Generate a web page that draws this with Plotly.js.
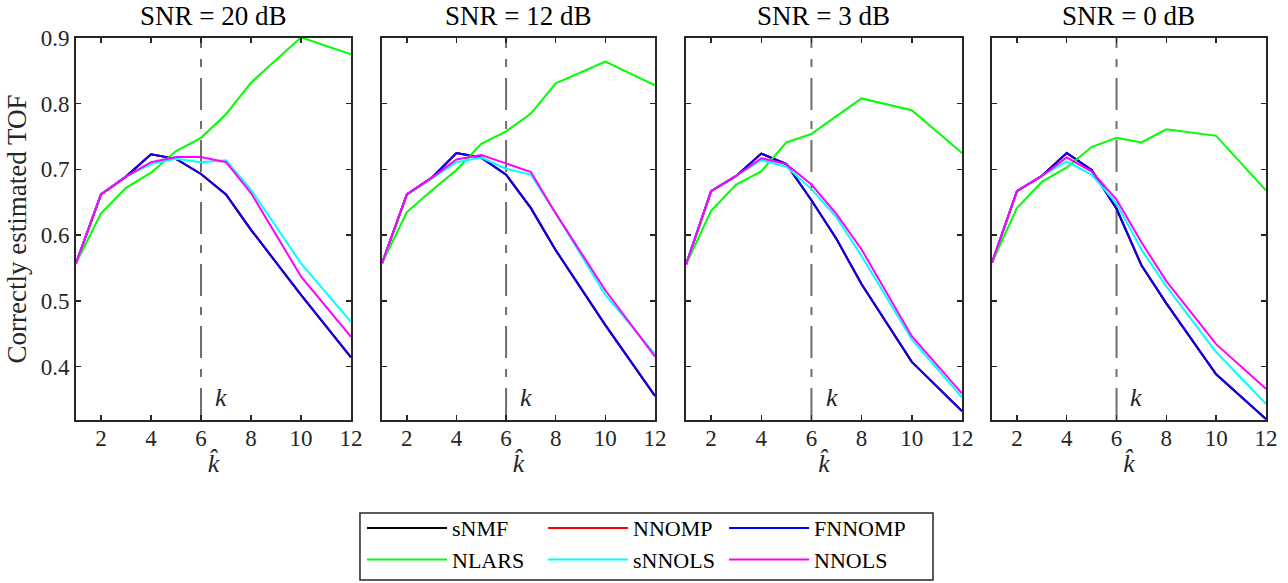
<!DOCTYPE html>
<html><head><meta charset="utf-8">
<script src="https://cdn.plot.ly/plotly-3.0.1.min.js"></script>
<style>html,body{margin:0;padding:0;background:#fff}</style></head>
<body><div id="chart" style="width:1288px;height:583px"></div>
<script>
// ---- data ----
const kHat = [1, 2, 3, 4, 5, 6, 7, 8, 10, 12];
const snrTitles = ['SNR = 20 dB', 'SNR = 12 dB', 'SNR = 3 dB', 'SNR = 0 dB'];
const trueK = 6;
const xTicks = [2, 4, 6, 8, 10, 12];
const yTicks = [0.4, 0.5, 0.6, 0.7, 0.8, 0.9];

// SNR = 20 dB
const sNMF_20   = [0.557, 0.662, 0.689, 0.723, 0.716, 0.693, 0.662, 0.608, 0.509, 0.414];
const NNOMP_20  = [0.557, 0.662, 0.689, 0.723, 0.716, 0.693, 0.662, 0.608, 0.509, 0.414];
const FNNOMP_20 = [0.557, 0.662, 0.689, 0.723, 0.716, 0.693, 0.662, 0.608, 0.509, 0.414];
const NLARS_20  = [0.557, 0.633, 0.672, 0.695, 0.728, 0.748, 0.784, 0.832, 0.901, 0.875];
const sNNOLS_20 = [0.557, 0.662, 0.689, 0.708, 0.716, 0.711, 0.714, 0.669, 0.557, 0.468];
const NNOLS_20  = [0.557, 0.662, 0.689, 0.711, 0.719, 0.719, 0.711, 0.664, 0.537, 0.445];
// SNR = 12 dB
const sNMF_12   = [0.557, 0.662, 0.687, 0.725, 0.718, 0.692, 0.641, 0.577, 0.463, 0.355];
const NNOMP_12  = [0.557, 0.662, 0.687, 0.725, 0.718, 0.692, 0.641, 0.577, 0.463, 0.355];
const FNNOMP_12 = [0.557, 0.662, 0.687, 0.725, 0.718, 0.692, 0.641, 0.577, 0.463, 0.355];
const NLARS_12  = [0.557, 0.635, 0.668, 0.699, 0.739, 0.758, 0.785, 0.831, 0.864, 0.828];
const sNNOLS_12 = [0.557, 0.662, 0.686, 0.711, 0.718, 0.701, 0.692, 0.633, 0.509, 0.419];
const NNOLS_12  = [0.557, 0.662, 0.687, 0.715, 0.722, 0.709, 0.696, 0.633, 0.516, 0.415];
// SNR = 3 dB
const sNMF_3    = [0.555, 0.667, 0.690, 0.724, 0.708, 0.653, 0.594, 0.525, 0.407, 0.332];
const NNOMP_3   = [0.555, 0.667, 0.690, 0.724, 0.708, 0.653, 0.594, 0.525, 0.407, 0.332];
const FNNOMP_3  = [0.555, 0.667, 0.690, 0.724, 0.708, 0.653, 0.594, 0.525, 0.407, 0.332];
const NLARS_3   = [0.555, 0.637, 0.677, 0.697, 0.741, 0.754, 0.781, 0.808, 0.790, 0.725];
const sNNOLS_3  = [0.555, 0.667, 0.690, 0.714, 0.704, 0.670, 0.627, 0.568, 0.441, 0.353];
const NNOLS_3   = [0.555, 0.667, 0.690, 0.717, 0.708, 0.677, 0.632, 0.578, 0.446, 0.359];
// SNR = 0 dB
const sNMF_0    = [0.558, 0.667, 0.690, 0.725, 0.699, 0.640, 0.554, 0.496, 0.388, 0.320];
const NNOMP_0   = [0.558, 0.667, 0.690, 0.725, 0.699, 0.640, 0.554, 0.496, 0.388, 0.320];
const FNNOMP_0  = [0.558, 0.667, 0.690, 0.725, 0.699, 0.640, 0.554, 0.496, 0.388, 0.320];
const NLARS_0   = [0.558, 0.641, 0.681, 0.703, 0.734, 0.748, 0.741, 0.761, 0.751, 0.668];
const sNNOLS_0  = [0.558, 0.667, 0.690, 0.712, 0.692, 0.648, 0.578, 0.522, 0.422, 0.343];
const NNOLS_0   = [0.558, 0.667, 0.690, 0.718, 0.697, 0.654, 0.589, 0.530, 0.434, 0.366];

const methodNames = ['sNMF', 'NNOMP', 'FNNOMP', 'NLARS', 'sNNOLS', 'NNOLS'];
const panels = [
  [sNMF_20, NNOMP_20, FNNOMP_20, NLARS_20, sNNOLS_20, NNOLS_20],
  [sNMF_12, NNOMP_12, FNNOMP_12, NLARS_12, sNNOLS_12, NNOLS_12],
  [sNMF_3, NNOMP_3, FNNOMP_3, NLARS_3, sNNOLS_3, NNOLS_3],
  [sNMF_0, NNOMP_0, FNNOMP_0, NLARS_0, sNNOLS_0, NNOLS_0]
];

// ---- styles ----
const colors = ['#000000', '#ff0000', '#0000ff', '#00ff00', '#00ffff', '#ff00ff'];
const legendCols = ['c1', 'c2', 'c3', 'c1', 'c2', 'c3'];
const serif = "'Liberation Serif', 'DejaVu Serif', serif";
const axColor = '#262626';
const domains = [[0, 0.2269], [0.2525, 0.4777], [0.5033, 0.7310], [0.7558, 0.9818]];

const traces = [];
panels.forEach((series, p) => {
  const sfx = p === 0 ? '' : String(p + 1);
  series.forEach((vals, m) => {
    traces.push({
      x: kHat, y: vals, type: 'scatter', mode: 'lines',
      name: methodNames[m], legendgroup: legendCols[m],
      line: {color: colors[m], width: 2},
      xaxis: 'x' + sfx, yaxis: 'y' + sfx,
      showlegend: p === 0
    });
  });
});

const layout = {
  width: 1288, height: 583,
  margin: {l: 76, r: 0, t: 38, b: 163},
  paper_bgcolor: '#fff', plot_bgcolor: '#fff',
  font: {family: serif, size: 22, color: '#000'},
  showlegend: true,
  legend: {
    orientation: 'h', x: 0.2360, xanchor: 'left', y: -0.228, yanchor: 'top',
    traceorder: 'grouped', tracegroupgap: 0,
    entrywidth: 86, entrywidthmode: 'pixels',
    borderwidth: 0, bgcolor: 'rgba(0,0,0,0)',
    font: {family: serif, size: 22, color: '#000'},
    itemwidth: 80
  },
  shapes: [{
    type: 'rect', xref: 'paper', yref: 'paper',
    x0: 0.2343, x1: 0.7071, y0: -0.4188, y1: -0.2435,
    line: {color: axColor, width: 1.5}, fillcolor: 'rgba(0,0,0,0)'
  }],
  annotations: []
};

domains.forEach((d, p) => {
  const sfx = p === 0 ? '' : String(p + 1);
  layout['xaxis' + sfx] = {
    domain: d, anchor: 'y' + sfx, range: [1, 12],
    tickvals: xTicks, ticktext: xTicks.map(String),
    ticks: 'inside', ticklen: 5, tickwidth: 1.5, tickcolor: axColor,
    ticklabelstandoff: -4,
    showline: true, linecolor: axColor, linewidth: 2, mirror: 'ticks',
    showgrid: false, zeroline: false,
    tickfont: {family: serif, size: 23, color: '#262626'},
    title: {text: '<i>k̂</i>', font: {family: serif, size: 26, color: '#262626'}, standoff: 4}
  };
  layout['yaxis' + sfx] = {
    domain: [0, 1], anchor: 'x' + sfx, range: [0.3185, 0.9],
    tickvals: yTicks, ticktext: yTicks.map(v => v.toFixed(1)),
    showticklabels: p === 0,
    ticks: 'inside', ticklen: 5, tickwidth: 1.5, tickcolor: axColor,
    showline: true, linecolor: axColor, linewidth: 2, mirror: 'ticks',
    showgrid: false, zeroline: false,
    tickfont: {family: serif, size: 23, color: '#262626'},
    title: p === 0 ? {text: 'Correctly estimated TOF', font: {family: serif, size: 27, color: '#262626'}, standoff: 6} : {text: ''}
  };
  layout.shapes.push({
    type: 'line', xref: 'x' + sfx, yref: 'y' + sfx + ' domain',
    x0: trueK, x1: trueK, y0: 0, y1: 1,
    line: {color: '#6e6e6e', width: 2, dash: '32px,11px,8px,11px'}, layer: 'below'
  });
  layout.annotations.push({
    xref: 'x' + sfx, yref: 'y' + sfx, x: trueK + 0.8, y: 0.353,
    text: '<i>k</i>', showarrow: false,
    font: {family: serif, size: 26, color: '#262626'}
  });
  layout.annotations.push({
    xref: 'paper', yref: 'paper', x: (d[0] + d[1]) / 2, xanchor: 'center',
    y: 1, yanchor: 'bottom', yshift: 5,
    text: snrTitles[p], showarrow: false,
    font: {family: serif, size: 27, color: '#000'}
  });
});

Plotly.newPlot('chart', traces, layout, {displayModeBar: false, staticPlot: true});
</script></body></html>
